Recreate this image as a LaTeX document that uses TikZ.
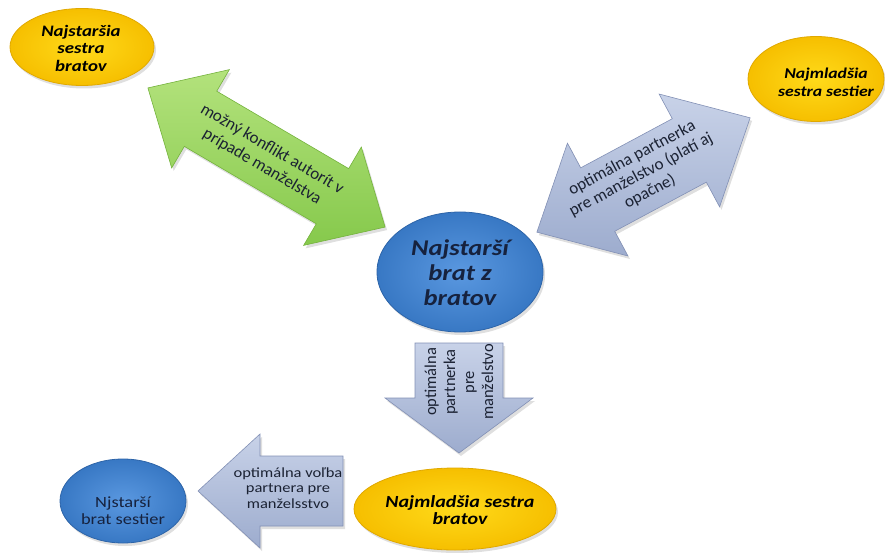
\documentclass[tikz,border=0pt]{standalone}
\usepackage{fontspec}
\setmainfont{Carlito}
\usetikzlibrary{shapes.geometric,shadows}
\definecolor{yin}{HTML}{FFDA1A}
\definecolor{yout}{HTML}{F6BF00}
\definecolor{yedge}{HTML}{E0A800}
\definecolor{bin}{HTML}{5A98E0}
\definecolor{bout}{HTML}{3878C4}
\definecolor{bedge}{HTML}{2D64A8}
\definecolor{gtop}{HTML}{B3E27C}
\definecolor{gbot}{HTML}{86C94C}
\definecolor{gedge}{HTML}{74B23C}
\definecolor{stop}{HTML}{C8D2E8}
\definecolor{sbot}{HTML}{9DACCE}
\definecolor{sedge}{HTML}{8290B5}
\definecolor{navy}{HTML}{16223E}
\definecolor{ink}{HTML}{1B2233}
\tikzset{
  softshadow/.style={drop shadow={opacity=0.25,shadow xshift=2pt,shadow yshift=-3pt}},
  yell/.style={ellipse,inner sep=0pt,inner color=yin,outer color=yout,draw=yedge,line width=0.8pt,softshadow},
  blu/.style={ellipse,inner sep=0pt,inner color=bin,outer color=bout,draw=bedge,line width=0.8pt,softshadow},
  greenarr/.style={top color=gtop,bottom color=gbot,draw=gedge,line width=0.6pt,softshadow},
  slatearr/.style={top color=stop,bottom color=sbot,draw=sedge,line width=0.6pt,softshadow},
  etext/.style={align=center,inner sep=0pt,xscale=1.18,text=black,font=\bfseries\itshape\fontsize{16}{17.5}\selectfont},
  atext/.style={align=center,inner sep=0pt,text=ink},
}
\begin{document}
\begin{tikzpicture}[x=1pt,y=-1pt]
\useasboundingbox (0,0) rectangle (885,553);

% ellipses
\node[yell,minimum width=144pt,minimum height=77pt] (tl) at (82,47) {};
\node[yell,minimum width=136pt,minimum height=85pt] (tr) at (816,79) {};
\node[blu,minimum width=166pt,minimum height=120pt] (c) at (460,272) {};
\node[yell,minimum width=202pt,minimum height=82pt] (br) at (455,509) {};
\node[blu,minimum width=126pt,minimum height=84pt] (bl) at (123,501) {};

% green double arrow
\begin{scope}[shift={(266.5,157.5)},rotate=-30.4]
  \coordinate (g1) at (-137.5,0);
  \coordinate (g2) at (137.5,0);
  \path[greenarr] (g1) -- (-76.5,57) -- (-76.5,32) -- (76.5,32) -- (76.5,57) -- (g2)
     -- (76.5,-57) -- (76.5,-32) -- (-76.5,-32) -- (-76.5,-57) -- cycle;
\end{scope}

% slate double arrow
\begin{scope}[shift={(643.5,175)},rotate=28.2]
  \coordinate (s1) at (-121,0);
  \coordinate (s2) at (121,0);
  \path[slatearr] (s1) -- (-52,64) -- (-52,36) -- (52,36) -- (52,64) -- (s2)
     -- (52,-64) -- (52,-36) -- (-52,-36) -- (-52,-64) -- cycle;
\end{scope}

% down arrow
\coordinate (d1) at (459,343);
\coordinate (d2) at (459,453);
\path[slatearr] (415,343) -- (503,343) -- (503,398) -- (533,398) -- (d2)
   -- (385,398) -- (415,398) -- cycle;

% left arrow
\coordinate (l1) at (343,491);
\coordinate (l2) at (198,491);
\path[slatearr] (l2) -- (260,434) -- (260,456) -- (343,456) -- (343,526)
   -- (260,526) -- (260,548) -- cycle;

% ellipse texts
\node[etext] (ttl) at (81,48) {Najstaršia\\sestra\\bratov};
\node[etext,font=\bfseries\itshape\fontsize{15}{18}\selectfont] (ttr) at (826,82) {Najmladšia\\sestra sestier};
\node[etext,text=navy,font=\bfseries\itshape\fontsize{22.5}{25}\selectfont] (tc) at (460,273) {Najstarší\\brat z\\bratov};
\node[etext,font=\bfseries\itshape\fontsize{17}{17.5}\selectfont] (tbr) at (460,510) {Najmladšia sestra\\bratov};
\node[etext,text=navy,font=\fontsize{15.6}{17}\selectfont] (tbl) at (123,511) {Njstarší\\brat sestier};

% arrow texts
\node[atext,rotate=-30.4,font=\fontsize{17}{20}\selectfont] (tg) at (267,158) {možný konflikt autorít v\\prípade manželstva};
\node[atext,rotate=28.2,font=\fontsize{17}{19}\selectfont] (ts) at (641,175) {optimálna partnerka\\pre manželstvo (platí aj\\opačne)};
\node[atext,rotate=90,font=\fontsize{16.5}{19}\selectfont] (td) at (459,382) {optimálna\\partnerka\\pre\\manželstvo};
\node[atext,xscale=1.18,font=\fontsize{14}{15.5}\selectfont] (tl2) at (288,488) {optimálna voľba\\partnera pre\\manželsstvo};
\end{tikzpicture}
\end{document}
